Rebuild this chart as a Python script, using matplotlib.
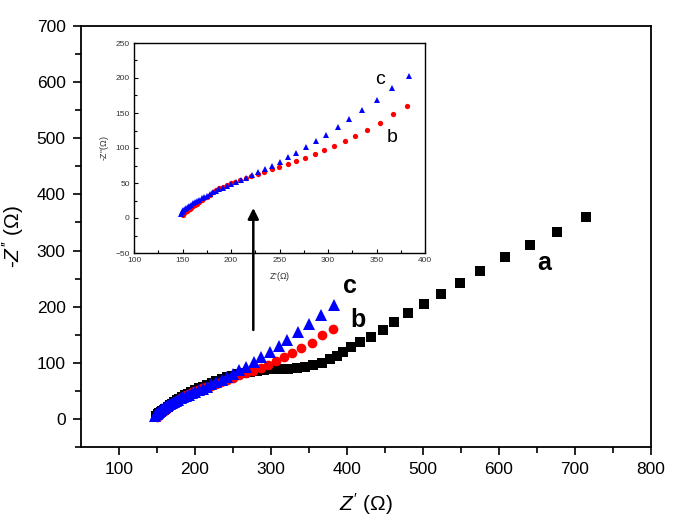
import matplotlib
matplotlib.use("Agg")
import matplotlib.pyplot as plt
from matplotlib.patches import FancyArrowPatch

plt.rcParams['font.family'] = ['Liberation Sans', 'DejaVu Sans']
plt.rcParams['mathtext.fontset'] = 'custom'
plt.rcParams['mathtext.rm'] = 'Liberation Sans'
plt.rcParams['mathtext.it'] = 'Liberation Sans:italic'

# ---- data ----
a_x = [149, 151, 153, 155, 157, 159, 161, 164, 167, 170, 173, 176, 179, 183, 187, 191, 195,
       200, 205, 210, 216, 222, 228, 235, 242, 249, 257, 265, 273, 282, 291, 301,
       311.8, 322.8, 333.8, 344.7, 355.7, 366.7, 377.6, 386.4, 395.1, 405.3, 417.1, 431.2,
       447.8, 462.2, 480.7, 500.9, 523.7, 548.7, 574.6, 607.9, 640.4, 676.3, 714.5]
a_y = [5, 8, 10, 12.5, 14.5, 16.5, 18.5, 21, 24, 27, 30, 33, 36, 39, 42, 45, 48,
       51, 54.5, 57.5, 61, 64, 67, 71, 74, 77, 80, 82, 84, 86, 87.5, 88.3,
       88.5, 89.6, 91.4, 93.2, 96.2, 100.3, 106.4, 112.2, 119.9, 127.7, 137.7, 146.6,
       158.6, 172.3, 188.3, 204.9, 222.7, 242.8, 264.2, 288.6, 309.5, 333.7, 359.3]

b_x = [150, 151, 152, 153, 154.5, 156, 157.5, 159, 161, 163, 165, 167.5, 170, 172.5, 175,
       178, 181, 184.5, 188, 192, 196, 200, 204.5, 209.5, 215, 221, 227.5, 234.5, 242,
       249.8, 258.4, 267, 276.3, 286.6, 296.2, 306.5, 317.2, 328.1, 339.9, 353.6, 367.3, 381.1]
b_y = [4, 5.5, 7, 8.5, 10, 11.5, 13, 14.5, 16.5, 18.5, 20.5, 23, 25.5, 28, 30.5,
       33.5, 36.5, 39.5, 42.5, 45, 47.5, 49.5, 52, 54.5, 57, 59.5, 62.5, 65.5, 69.5,
       73.3, 77.6, 81.9, 86.1, 91, 96.7, 102.4, 110, 117.6, 125.7, 136.1, 149, 160.4]

c_x = [148, 149, 150, 151, 152.5, 154, 155.5, 157, 159, 161, 163, 165, 167.5, 170, 172.5,
       175, 178, 181, 184.5, 188, 192, 196, 200.5, 205, 210, 215.5, 221.5, 228, 235,
       242.6, 250.2, 258.5, 267.3, 277.3, 287.3, 298.2, 310, 321.6, 335.1, 350.2, 366.3, 383.5]
c_y = [6, 8, 9.5, 11, 12.5, 14, 15.5, 17, 19, 21, 22.5, 24, 26, 28, 30,
       32, 34.5, 37, 39, 41.5, 43.5, 45.5, 48, 51, 54, 57.5, 61.5, 65.5, 70,
       74.3, 80.4, 86.7, 93.3, 101, 109.6, 119, 130, 141.4, 154.3, 168.6, 185.7, 203.3]

main_xticks = [100, 200, 300, 400, 500, 600, 700, 800]
main_yticks = [0, 100, 200, 300, 400, 500, 600, 700]
inset_xticks = [100, 150, 200, 250, 300, 350, 400]
inset_yticks = [-50, 0, 50, 100, 150, 200, 250]

W, H = 685, 530
fig = plt.figure(figsize=(W / 100, H / 100), dpi=100)

ax = fig.add_axes([81 / W, 1 - 447 / H, 570 / W, 421 / H])
ax.plot(a_x, a_y, 's', color='black', ms=7, mew=0, zorder=3)
ax.plot(b_x, b_y, 'o', color='#ff0000', ms=7, mew=0, zorder=4)
ax.plot(c_x, c_y, '^', color='#0000ff', ms=8.5, mew=0, zorder=5)
ax.set_xlim(50, 800)
ax.set_ylim(-50, 700)
ax.set_xticks(main_xticks)
ax.set_yticks(main_yticks)
ax.set_xticks([150, 250, 350, 450, 550, 650, 750], minor=True)
ax.set_yticks([-50, 50, 150, 250, 350, 450, 550, 650], minor=True)
ax.tick_params(which='major', direction='out', length=6, width=1.2, labelsize=12.5, pad=5)
ax.tick_params(which='minor', direction='out', length=4, width=1.2)
for s in ax.spines.values():
    s.set_linewidth(1.3)
ax.set_xlabel(r"$\mathit{Z'}$ ($\Omega$)", fontsize=15, labelpad=10)
ax.set_ylabel(r"-$\mathit{Z''}$ ($\Omega$)", fontsize=15, labelpad=8)

ax.text(404, 236, 'c', fontsize=18, fontweight='bold', ha='center', va='center')
ax.text(415, 176, 'b', fontsize=18, fontweight='bold', ha='center', va='center')
ax.text(660, 277, 'a', fontsize=18, fontweight='bold', ha='center', va='center')

# inset
ins = fig.add_axes([134 / W, 1 - 253 / H, 291 / W, 210 / H])
ins.plot(b_x, b_y, 'o', color='#ff0000', ms=3.8, mew=0, zorder=3)
ins.plot(c_x, c_y, '^', color='#0000ff', ms=4.5, mew=0, zorder=4)
ins.set_xlim(100, 400)
ins.set_ylim(-50, 250)
ins.set_xticks(inset_xticks)
ins.set_yticks(inset_yticks)
ins.set_xticks([125, 175, 225, 275, 325, 375], minor=True)
ins.set_yticks([-25, 25, 75, 125, 175, 225], minor=True)
ins.tick_params(which='major', direction='in', length=3, width=0.8, labelsize=6, pad=3,
                labelcolor='#333333')
ins.tick_params(which='minor', direction='in', length=2, width=0.8)
for s in ins.spines.values():
    s.set_linewidth(1.0)
ins.set_xlabel(r"Z'($\Omega$)", fontsize=6.5, labelpad=4, color='#333333')
ins.set_ylabel(r"-Z''($\Omega$)", fontsize=6.5, labelpad=3, color='#333333')
ins.text(353.6, 198, 'c', fontsize=14, ha='center', va='center')
ins.text(365.6, 115, 'b', fontsize=14, ha='center', va='center')

# arrow drawn above both axes
arrow = FancyArrowPatch((253.3 / W, 1 - 330 / H), (253.3 / W, 1 - 208 / H),
                        transform=fig.transFigure, arrowstyle='-|>', color='black',
                        lw=1.8, mutation_scale=16, shrinkA=0, shrinkB=0, zorder=10)
fig.add_artist(arrow)

fig.savefig('out.png', dpi=100)
